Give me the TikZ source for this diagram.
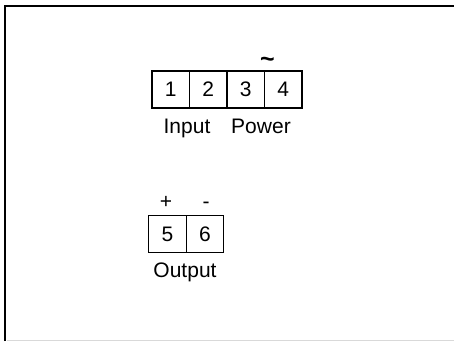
\documentclass[tikz,border=0pt]{standalone}
\usepackage{fontspec}
\setmainfont{Liberation Sans}
\begin{document}
\begin{tikzpicture}[x=1pt,y=-1pt,
  term/.style={draw,line width=1.2pt,minimum width=37.5pt,minimum height=37pt,inner sep=0pt,outer sep=0pt,font=\fontsize{21}{24}\selectfont},
  lbl/.style={inner sep=0pt,anchor=base,font=\fontsize{21}{24}\selectfont}]
\useasboundingbox (0,0) rectangle (454,341);
\draw[line width=2pt] (5,341) -- (5,5.5) -- (454,5.5);
\draw[line width=0.8pt,black!15] (7,340) -- (454,340);
% top terminal block
\node[term] (t1) at (170.75,89.5) {1};
\node[term,anchor=west] (t2) at (t1.east) {2};
\node[term,anchor=west] (t3) at (t2.east) {3};
\node[term,anchor=west] (t4) at (t3.east) {4};
\node[lbl,font=\fontsize{25}{28}\selectfont\bfseries] (tilde) at (267.5,67) {\textasciitilde};
\node[lbl] (input) at (187,133) {Input};
\node[lbl] (power) at (261,133) {Power};
% bottom terminal block
\node[term] (t5) at (167.5,234) {5};
\node[term,anchor=west] (t6) at (t5.east) {6};
\node[lbl] (plus) at (166,208) {+};
\node[lbl] (minus) at (206,208) {-};
\node[lbl] (output) at (185,277) {Output};
\end{tikzpicture}
\end{document}
